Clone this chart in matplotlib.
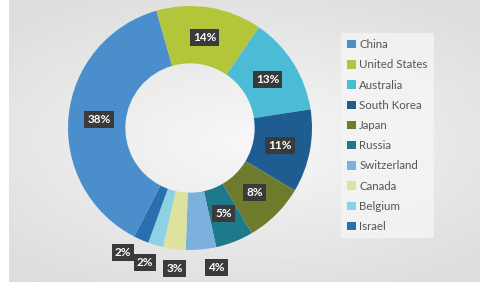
import numpy as np
import matplotlib
matplotlib.use("Agg")
import matplotlib.pyplot as plt
from matplotlib.patches import Patch

countries = ["China", "United States", "Australia", "South Korea", "Japan",
             "Russia", "Switzerland", "Canada", "Belgium", "Israel"]
shares = [38, 14, 13, 11, 8, 5, 4, 3, 2, 2]
colors = ["#4a8fcc", "#b3c639", "#4cbcd6", "#1f5c92", "#6c7c2c",
          "#1c7a8a", "#7cb1de", "#dde29e", "#8dd2e2", "#2a70b0"]

plt.rcParams["font.family"] = ["Lato", "DejaVu Sans"]

W, H = 481, 282
fig = plt.figure(figsize=(W / 100, H / 100), dpi=100)
fig.patch.set_facecolor("white")

# soft grey backdrop
bg = fig.add_axes([9 / W, 0, 1 - 9 / W, 1])
yy, xx = np.mgrid[-1:1:200j, -1:1:300j]
grad = 0.97 - 0.08 * np.clip(np.sqrt((xx * 0.9) ** 2 + (yy * 1.1) ** 2), 0, 1.3)
bg.imshow(grad, cmap="gray", vmin=0, vmax=1, aspect="auto", extent=[0, 1, 0, 1])
bg.axis("off")

# donut
cx, cy, R = 190, 154, 122
ax = fig.add_axes([(cx - R) / W, (cy - R) / H, 2 * R / W, 2 * R / H])
wedges, _ = ax.pie(shares, colors=colors, startangle=242.8, counterclock=False,
                   radius=1, wedgeprops=dict(width=0.47, edgecolor="none"))
ax.set_xlim(-1, 1)
ax.set_ylim(-1, 1)
ax.axis("off")

# small slices get their labels pushed outside and fanned apart a little
small_mids = [(w.theta1 + w.theta2) / 2 for w, v in zip(wedges, shares) if v < 5]
fan_center = np.mean(small_mids)
for w, v in zip(wedges, shares):
    mid = (w.theta1 + w.theta2) / 2
    if v >= 5:
        r = 0.75
    else:
        r = 1.16
        mid = fan_center + (mid - fan_center) * 1.35
    a = np.deg2rad(mid)
    ax.text(r * np.cos(a), r * np.sin(a), f"{v}%", ha="center", va="center",
            color="white", fontsize=8.5, fontweight="bold", clip_on=False,
            bbox=dict(boxstyle="square,pad=0.25", fc="#3a3a3a", ec="none"))

# legend
handles = [Patch(facecolor=c, edgecolor="none") for c in colors]
leg = fig.legend(handles, countries, loc="upper left",
                 bbox_to_anchor=(335 / W, 1 - 27 / H), frameon=True,
                 fontsize=8.3, labelcolor="#555555", handlelength=0.75,
                 handleheight=0.75, handletextpad=0.3, labelspacing=0.8,
                 borderpad=0.55, fancybox=False)
leg.get_frame().set_facecolor("#f5f5f5")
leg.get_frame().set_edgecolor("none")

fig.savefig("out.png", dpi=100, facecolor=fig.get_facecolor())
